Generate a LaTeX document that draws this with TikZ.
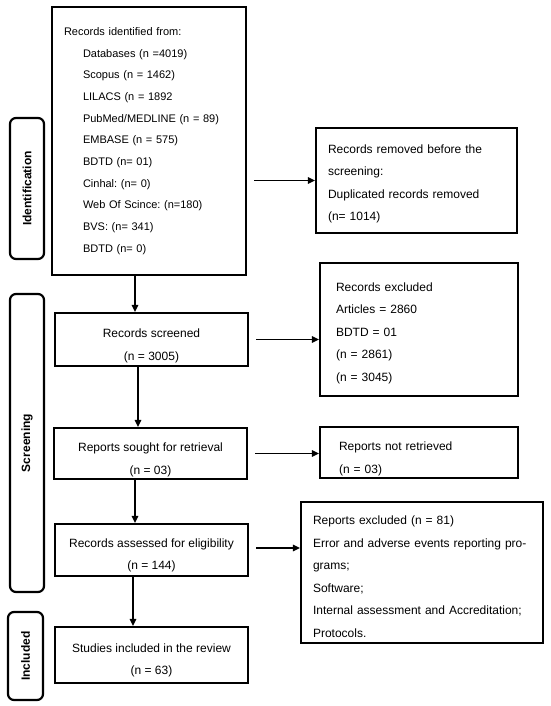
\documentclass[tikz,border=0pt]{standalone}
\usepackage{fontspec}
\setmainfont{Liberation Sans}
\usepackage{tikz}
\usetikzlibrary{arrows.meta}
\newcommand{\topgap}[1]{\rule{0pt}{#1}}
\frenchspacing

\begin{document}
\begin{tikzpicture}[x=1pt,y=-1pt]
	\tikzstyle{box} = [draw=black, line width=2.2pt, inner ysep=0pt, font=\fontsize{12}{22.5}\selectfont]
	\tikzstyle{lbox} = [box, align=left]
	\tikzstyle{cbox} = [box, align=center, minimum width=193pt]
	\tikzstyle{phase} = [draw=black, line width=2.2pt, rounded corners=6pt, rotate=90, font=\fontsize{12}{14}\selectfont\bfseries, inner sep=0pt]
	\tikzstyle{arr} = [draw=black, line width=1.5pt, -{Triangle[length=7pt,width=6.5pt]}]
	\useasboundingbox (0,0) rectangle (550,706);
		\node[phase, minimum width=141pt, minimum height=34pt] (idlab) at (27,188.5) {Identification};
		\node[phase, minimum width=298pt, minimum height=34pt] (sclab) at (27,443) {Screening};
		\node[phase, minimum width=88pt, minimum height=35pt] (inlab) at (25.5,656) {Included};
		\node[lbox, text width=170pt, inner xsep=12pt, minimum height=268pt, font=\fontsize{11}{21.7}\selectfont] (ident) at (149,141)
			{Records identified from:\\
			\hspace*{19pt}Databases (n =4019)\\
			\hspace*{19pt}Scopus (n = 1462)\\
			\hspace*{19pt}LILACS (n = 1892\\
			\hspace*{19pt}PubMed/MEDLINE (n = 89)\\
			\hspace*{19pt}EMBASE (n = 575)\\
			\hspace*{19pt}BDTD (n= 01)\\
			\hspace*{19pt}Cinhal: (n= 0)\\
			\hspace*{19pt}Web Of Scince: (n=180)\\
			\hspace*{19pt}BVS: (n= 341)\\
			\hspace*{19pt}BDTD (n= 0)};
		\node[cbox, minimum height=53pt] (screened) at (151.5,339.5) {\topgap{21pt}Records screened\\(n = 3005)};
		\node[cbox, minimum height=51pt] (sought) at (150.5,453.5) {\topgap{21pt}Reports sought for retrieval\\(n = 03)};
		\node[cbox, minimum height=52pt] (assessed) at (151.5,550) {\topgap{19pt}Records assessed for eligibility\\(n = 144)};
		\node[cbox, minimum height=56pt] (studies) at (151.5,655) {\topgap{19pt}Studies included in the review\\(n = 63)};
		\node[lbox, text width=177pt, inner xsep=12pt, minimum height=105pt] (removed) at (416.5,180.5)
			{\topgap{15pt}Records removed before the\\screening:\\Duplicated records removed\\(n= 1014)};
		\node[lbox, text width=166pt, inner xsep=16pt, minimum height=133pt] (excluded) at (419,329.5)
			{\topgap{16pt}Records excluded\\Articles = 2860\\BDTD = 01\\(n = 2861)\\(n = 3045)};
		\node[lbox, text width=160pt, inner xsep=19pt, minimum height=51pt] (notret) at (419,452.5)
			{\topgap{21pt}Reports not retrieved\\(n = 03)};
		\node[lbox, text width=218pt, inner xsep=12pt, minimum height=141pt] (repexcl) at (422,572.5)
			{\topgap{17pt}Reports excluded (n = 81)\\Error and adverse events reporting pro-\\grams;\\Software;\\Internal assessment and Accreditation;\\Protocols.};
		\coordinate (spine) at (135,0);
	\draw[arr] (ident.south -| spine) -- (screened.north -| spine);
	\draw[arr] ([xshift=3pt]screened.south -| spine) -- ([xshift=3pt]sought.north -| spine);
	\draw[arr] (sought.south -| spine) -- (assessed.north -| spine);
	\draw[arr] ([xshift=-2pt]assessed.south -| spine) -- ([xshift=-2pt]studies.north -| spine);
	\draw[arr, shorten <=7pt] (removed.west -| ident.east) -- (removed.west);
	\draw[arr, shorten <=7pt] (screened.east) -- (screened.east -| excluded.west);
	\draw[arr, shorten <=7pt] (sought.east) -- (sought.east -| notret.west);
	\draw[arr, shorten <=7pt] ([yshift=2pt]assessed.east) -- ([yshift=2pt]assessed.east -| repexcl.west);
\end{tikzpicture}
\end{document}
